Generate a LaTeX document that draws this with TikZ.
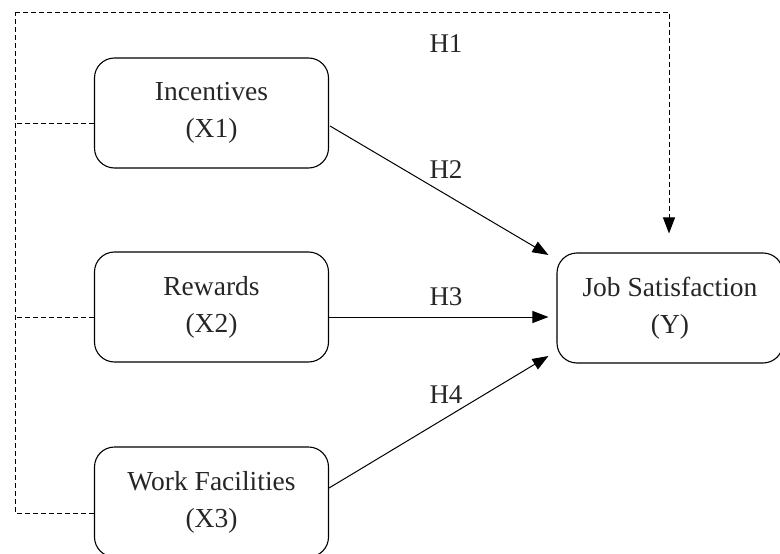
\documentclass[tikz,border=0pt]{standalone}
\usepackage{fontspec}
\setmainfont{Liberation Serif}
\usetikzlibrary{calc,arrows.meta}
\begin{document}
\begin{tikzpicture}[x=1pt,y=-1pt,
  varbox/.style={draw,line width=1.1pt,rounded corners=20pt,minimum width=234pt,minimum height=110pt,inner sep=0pt,align=center,
    font=\fontsize{27.5}{37}\selectfont,text=black!85},
  hlabel/.style={font=\fontsize{27}{30}\selectfont,text=black!85,inner sep=0pt},
  dashline/.style={dashed,dash pattern=on 5pt off 3pt,line width=1pt},
  solidarrow/.style={line width=1pt,-{Triangle[length=16pt,width=12pt]}},
  dasharrow/.style={dashline,-{Triangle[length=16pt,width=12pt]}}]
\useasboundingbox (0,0) rectangle (780,554);
\begin{scope}
\clip (0,0) rectangle (780,554);
\node[varbox] (inc) at (211.5,113) {Incentives\\(X1)};
\node[varbox] (rew) at (211.5,307) {Rewards\\(X2)};
\node[varbox] (wf) at (211.5,502) {Work Facilities\\(X3)};
\node[varbox,minimum width=226pt] (js) at (670,308) {Job Satisfaction\\(Y)};

\coordinate (TL) at (15,12);
\coordinate (TR) at (669,12);
\coordinate (L1) at (15,123);
\coordinate (L2) at (15,317);
\coordinate (L3) at (15,513);

\draw[dashline] ($(inc.west)+(0,10)$) -- (L1);
\draw[dashline] ($(rew.west)+(0,10)$) -- (L2);
\draw[dashline] ($(wf.west)+(0,11)$) -- (L3) -- (TL);
\draw[dasharrow] (TL) -- (TR) -- ($(js.north)+(-1,-19)$);

\draw[solidarrow] ($(inc.east)+(1,13)$) -- ($(js.west)+(-8,-53)$);
\draw[solidarrow] ($(rew.east)+(0,10)$) -- ($(js.west)+(-8,9)$);
\draw[solidarrow] ($(wf.east)+(0,-14)$) -- ($(js.west)+(-8,48)$);

\node[hlabel] (h1) at (446,44) {H1};
\node[hlabel] (h2) at (446,170) {H2};
\node[hlabel] (h3) at (446,297) {H3};
\node[hlabel] (h4) at (446,395) {H4};
\end{scope}
\end{tikzpicture}
\end{document}
